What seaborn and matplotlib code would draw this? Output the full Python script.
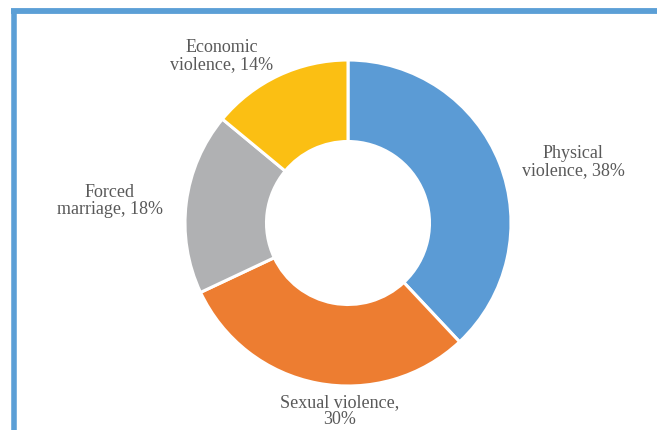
import matplotlib
matplotlib.use("Agg")
import matplotlib.pyplot as plt
import seaborn as sns

# Data
categories = ["Physical violence", "Sexual violence", "Forced marriage", "Economic violence"]
values = [38, 30, 18, 14]
label_texts = ["Physical\nviolence, 38%", "Sexual violence,\n30%", "Forced\nmarriage, 18%", "Economic\nviolence, 14%"]
colors = ["#5B9BD5", "#ED7D31", "#B0B1B3", "#FBBF13"]

sns.set_theme(style="white")
plt.rcParams["font.family"] = ["Liberation Serif", "DejaVu Serif"]

W, H = 657, 430
fig = plt.figure(figsize=(W / 100, H / 100), dpi=100)
ax = fig.add_axes([0, 0, 1, 1])

cx, cy = 348, H - 223
R = 163
ax.pie(values, center=(cx, cy), radius=R, startangle=90, counterclock=False,
       colors=colors, frame=True,
       wedgeprops=dict(width=R * 0.5, edgecolor="white", linewidth=2.2))

ax.set_xlim(0, W)
ax.set_ylim(0, H)
ax.set_aspect("equal")
ax.set_xticks([])
ax.set_yticks([])
for s in ax.spines.values():
    s.set_visible(False)

# border (blue frame, top and left visible)
border = "#5B9FD6"
ax.plot([11, W + 5], [H - 11, H - 11], color=border, lw=4.2, solid_capstyle="butt")
ax.plot([13.5, 13.5], [H - 8.5, -5], color=border, lw=4.0, solid_capstyle="butt")

label_pos = [(573, H - 162), (340, H - 411), (110, H - 201), (222, H - 56)]
for (x, y), t in zip(label_pos, label_texts):
    ax.text(x, y, t, ha="center", va="center", fontsize=13, color="#595959",
            linespacing=1.05)

fig.savefig("out.png", dpi=100)
